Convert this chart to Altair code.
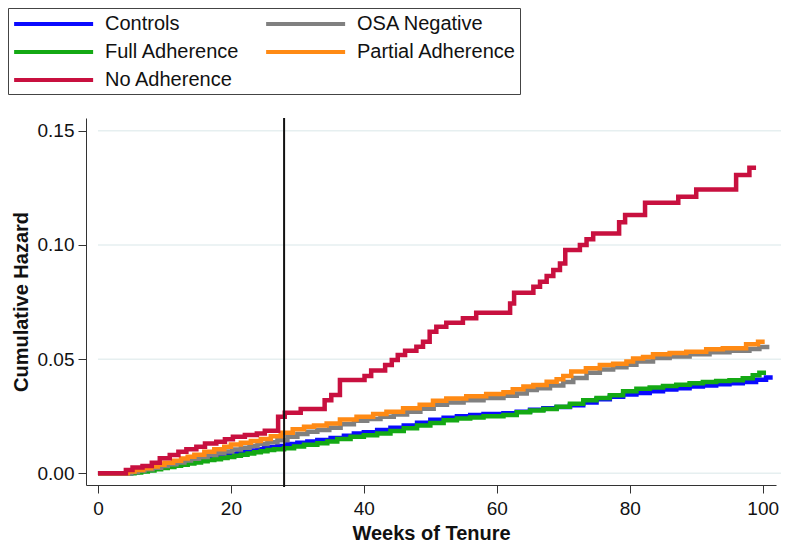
import altair as alt
import pandas as pd

# ---- data ----
series_names = ["Controls", "Full Adherence", "No Adherence", "OSA Negative", "Partial Adherence"]
series_colors = ["#0a0aff", "#14a914", "#c8103f", "#808080", "#ff8a14"]

controls_w = [0, 5, 6, 7, 8, 9, 10, 11, 12, 13, 14, 15, 16, 17, 18, 19, 20, 21, 22, 23, 24, 25, 26, 27,
              28.5, 30, 31.5, 33, 35, 37, 38.5, 40, 42, 44, 46, 48, 50, 52, 54, 56, 58, 61, 63, 65, 67,
              69, 71, 73, 75, 77, 79, 81, 83, 85, 87, 89, 91, 93, 95, 97, 99, 100.5, 101.5]
controls_h = [0, 0.0005, 0.0010, 0.0015, 0.0020, 0.0027, 0.0033, 0.0040, 0.0045, 0.0050, 0.0055, 0.0060,
              0.0065, 0.0070, 0.0075, 0.0080, 0.0085, 0.0090, 0.0095, 0.0100, 0.0105, 0.0110, 0.0115,
              0.0120, 0.0128, 0.0134, 0.0140, 0.0146, 0.0155, 0.0165, 0.0175, 0.0180, 0.0190, 0.0200,
              0.0210, 0.0222, 0.0235, 0.0243, 0.0250, 0.0255, 0.0260, 0.0263, 0.0270, 0.0278, 0.0285,
              0.0290, 0.0298, 0.0310, 0.0325, 0.0335, 0.0345, 0.0352, 0.0360, 0.0367, 0.0373, 0.0380,
              0.0385, 0.0390, 0.0395, 0.0400, 0.0410, 0.0420, 0.0420]

full_w = [0, 5.5, 6.5, 7.5, 8.5, 9.5, 10.5, 11.5, 12.5, 13.5, 14.5, 15.5, 16.5, 17.5, 18.5, 19.5, 20.5,
          21.5, 22.5, 23.5, 24.5, 25.5, 26.5, 28, 29.5, 31, 33, 34.5, 36, 38, 40, 42, 44, 46, 48, 50, 52,
          54, 56, 58, 61, 63, 65, 67, 69, 71, 73, 75, 77, 79, 81, 83, 85, 87, 89, 91, 93, 95, 97, 98.5,
          99.5, 100.5]
full_h = [0, 0.0004, 0.0008, 0.0013, 0.0018, 0.0023, 0.0028, 0.0033, 0.0038, 0.0043, 0.0048, 0.0053,
          0.0058, 0.0062, 0.0067, 0.0072, 0.0077, 0.0082, 0.0087, 0.0092, 0.0097, 0.0102, 0.0106,
          0.0110, 0.0118, 0.0125, 0.0132, 0.0140, 0.0150, 0.0160, 0.0167, 0.0175, 0.0185, 0.0198,
          0.0210, 0.0220, 0.0233, 0.0240, 0.0245, 0.0250, 0.0255, 0.0268, 0.0275, 0.0282, 0.0292,
          0.0305, 0.0320, 0.0330, 0.0342, 0.0360, 0.0370, 0.0376, 0.0382, 0.0388, 0.0394, 0.0400,
          0.0404, 0.0408, 0.0416, 0.0430, 0.0440, 0.0440]

osa_w = [0, 5, 6, 7, 8.2, 9.5, 10.5, 11.8, 13, 14, 15.2, 16.5, 17.8, 19, 20.2, 21.5, 22.8, 24, 25.5, 27,
         28.5, 30, 31.5, 33, 34.8, 36.5, 38.5, 40.5, 42.5, 44.5, 46.5, 48.5, 50.5, 52.5, 55, 58, 61, 63,
         64.5, 66, 68, 70, 71.5, 73.5, 75.5, 77.5, 79.5, 81, 83.5, 86, 89, 92, 95, 98, 99.5, 101]
osa_h = [0, 0.0006, 0.0012, 0.0018, 0.0025, 0.0032, 0.0040, 0.0048, 0.0056, 0.0064, 0.0072, 0.0080,
         0.0088, 0.0096, 0.0104, 0.0112, 0.0120, 0.0128, 0.0136, 0.0145, 0.0160, 0.0172, 0.0182,
         0.0190, 0.0200, 0.0215, 0.0230, 0.0238, 0.0248, 0.0258, 0.0270, 0.0283, 0.0300, 0.0310,
         0.0320, 0.0330, 0.0340, 0.0350, 0.0365, 0.0373, 0.0385, 0.0400, 0.0418, 0.0440, 0.0455,
         0.0465, 0.0475, 0.0490, 0.0505, 0.0512, 0.0522, 0.0530, 0.0537, 0.0545, 0.0553, 0.0553]

partial_w = [0, 4.5, 5.5, 6.8, 8, 9, 10, 11.3, 12.5, 13.5, 14.5, 16, 17.5, 19, 20, 21.5, 23, 24.5, 26,
             27.5, 29.3, 31, 32.5, 34.4, 36.4, 38.9, 41.4, 43.4, 45.9, 48.4, 50.4, 52.4, 55.4, 58.4, 61,
             62.4, 64, 65.5, 67.5, 69, 70, 71.2, 73.4, 75.5, 77.5, 79.5, 80.5, 82, 83.5, 86, 88.5, 91.5,
             94, 97.5, 99.3, 100.3]
partial_h = [0, 0.0008, 0.0015, 0.0022, 0.0030, 0.0038, 0.0046, 0.0055, 0.0065, 0.0073, 0.0082, 0.0095,
             0.0105, 0.0116, 0.0126, 0.0134, 0.0142, 0.0150, 0.0162, 0.0178, 0.0193, 0.0204, 0.0210,
             0.0218, 0.0236, 0.0248, 0.0260, 0.0270, 0.0285, 0.0300, 0.0318, 0.0328, 0.0338, 0.0347,
             0.0355, 0.0368, 0.0380, 0.0387, 0.0401, 0.0412, 0.0426, 0.0446, 0.0460, 0.0474, 0.0480,
             0.0490, 0.0503, 0.0510, 0.0522, 0.0527, 0.0533, 0.0543, 0.0548, 0.0565, 0.0576, 0.0576]

none_w = [0, 4.2, 5.2, 6.7, 8.1, 9.3, 10.8, 12.1, 13.3, 14.8, 16.1, 17.8, 19.1, 20.3, 22.1, 23.9, 25.1,
          27.1, 28.1, 30.5, 34.1, 35.1, 36.4, 40.1, 41.1, 43.2, 44.2, 45.1, 46.2, 47.9, 48.9, 49.9, 50.9,
          52.4, 54.9, 56.9, 62.0, 62.6, 65.5, 66.5, 67.5, 68.5, 69.5, 70.3, 72.5, 73.5, 74.5, 78.4, 79.3,
          82.3, 87.3, 90.0, 96.0, 98.0, 99.0]
none_h = [0, 0.0015, 0.0026, 0.0032, 0.0046, 0.0066, 0.0080, 0.0095, 0.0105, 0.0117, 0.0131, 0.0138,
          0.0149, 0.0160, 0.0168, 0.0175, 0.0187, 0.0248, 0.0265, 0.0282, 0.0320, 0.0343, 0.0409,
          0.0426, 0.0450, 0.0474, 0.0496, 0.0518, 0.0537, 0.0554, 0.0576, 0.0620, 0.0642, 0.0660,
          0.0679, 0.0703, 0.0744, 0.0791, 0.0817, 0.0839, 0.0864, 0.0890, 0.0919, 0.0978, 0.1000,
          0.1025, 0.1050, 0.1100, 0.1131, 0.1185, 0.1211, 0.1243, 0.1306, 0.1338, 0.1338]

y_ticks = [0.0, 0.05, 0.10, 0.15]
x_ticks = [0, 20, 40, 60, 80, 100]
marker_week = [28]

FONT = "Liberation Sans"

def frame(name, w, h):
    return pd.DataFrame({"week": w, "hazard": h, "group": name})

draw_order = [
    ("Controls", controls_w, controls_h),
    ("Full Adherence", full_w, full_h),
    ("OSA Negative", osa_w, osa_h),
    ("Partial Adherence", partial_w, partial_h),
    ("No Adherence", none_w, none_h),
]

x_scale = alt.Scale(domain=[-1.8, 102], nice=False, zero=False)
y_scale = alt.Scale(domain=[-0.0051, 0.1556], nice=False, zero=False)
color_scale = alt.Scale(domain=series_names, range=series_colors)

x_axis = alt.Axis(values=x_ticks, title="Weeks of Tenure", grid=False)
y_axis = alt.Axis(values=y_ticks, format=".2f", title="Cumulative Hazard", grid=False)

# wide flat legend symbol, drawn rightwards from the entry's left edge
SYM_SIZE = 390
legend = alt.Legend(title=None, orient="none", legendX=-78, legendY=-110,
                    columns=2, columnPadding=18, rowPadding=6,
                    symbolType="M-1,0H7", symbolSize=SYM_SIZE, symbolStrokeWidth=4,
                    labelFontSize=20, labelFont=FONT, labelColor="#111111",
                    labelOffset=69, padding=4, strokeColor="#444444",
                    fillColor="white", labelLimit=400)

grid = alt.Chart(pd.DataFrame({"g": y_ticks})).mark_rule(
    color="#e6eff0", strokeWidth=1.5
).encode(
    y=alt.Y("g:Q", scale=y_scale, axis=y_axis),
    x=alt.datum(0, scale=x_scale, axis=x_axis),
    x2=alt.value(704),
)

layers = [grid]
for name, w, h in draw_order:
    layers.append(
        alt.Chart(frame(name, w, h)).mark_line(interpolate="step-after", strokeWidth=4.5).encode(
            x=alt.X("week:Q", scale=x_scale, axis=x_axis),
            y=alt.Y("hazard:Q", scale=y_scale, axis=y_axis),
            color=alt.Color("group:N", scale=color_scale, legend=legend),
        )
    )

vline = alt.Chart(pd.DataFrame({"w": marker_week})).mark_rule(color="#111111", strokeWidth=2).encode(
    x=alt.X("w:Q", scale=x_scale, axis=x_axis),
    y=alt.value(0),
    y2=alt.value(369),
)
layers.append(vline)

chart = alt.layer(*layers).properties(
    width=690, height=367,
    autosize=alt.AutoSizeParams(type="none"),
    padding={"left": 78, "top": 110, "right": 5, "bottom": 57},
    background="white",
).configure_view(stroke=None).configure_axis(
    labelFont=FONT, labelFontSize=19, labelColor="#111111",
    titleFont=FONT, titleFontSize=20, titleFontWeight="bold", titleColor="#111111",
    domainColor="#333333", domainWidth=1, tickColor="#333333", tickSize=8, tickWidth=1,
).configure_axisX(labelPadding=6, titlePadding=5, labelFlush=False).configure_axisY(
    labelPadding=4, titlePadding=6)

chart.save("out.html", embed_options={"renderer": "svg", "actions": False})
